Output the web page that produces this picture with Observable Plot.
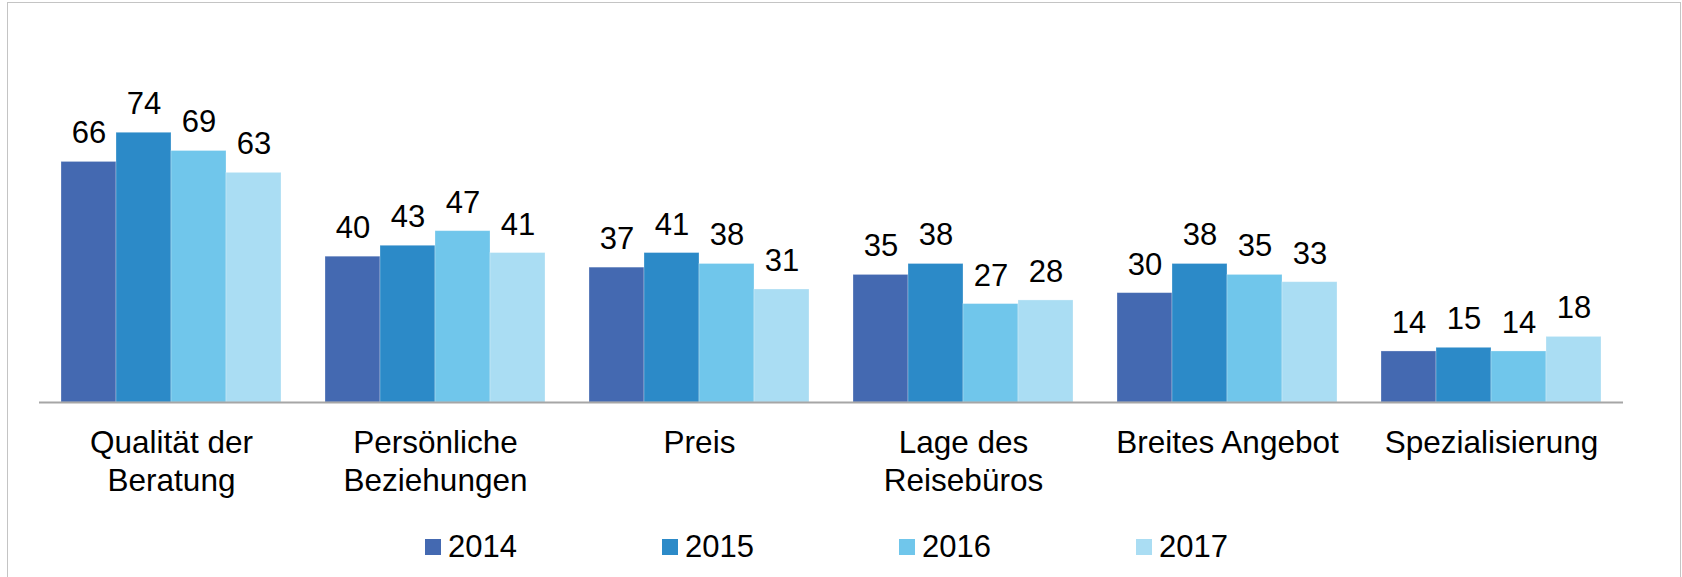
<!DOCTYPE html>
<html>
<head>
<meta charset="utf-8">
<script src="https://cdn.jsdelivr.net/npm/d3@7"></script>
<script src="https://cdn.jsdelivr.net/npm/@observablehq/plot@0.6"></script>
<style>
  html, body { margin: 0; padding: 0; background: #fff; }
  body { width: 1682px; height: 577px; position: relative; overflow: hidden; font-family: "Liberation Sans", Arial, sans-serif; }
  #chart { position: absolute; left: 0; top: 0; }
  #legend { position: absolute; left: 425px; top: 527px; display: flex; height: 40px; align-items: center; }
  .item { width: 237px; display: flex; align-items: center; font-size: 31px; color: #000; }
  .sw { width: 16px; height: 16px; margin-right: 7px; }
  #frame { position: absolute; left: 7px; top: 2px; width: 1674px; height: 640px; border: 1.5px solid #c4c4c4; box-sizing: border-box; pointer-events: none; }
</style>
</head>
<body>
<div id="chart"></div>
<div id="legend"></div>
<div id="frame"></div>
<script>
const categories = ["Qualität der Beratung", "Persönliche Beziehungen", "Preis", "Lage des Reisebüros", "Breites Angebot", "Spezialisierung"];
const tickLabels = ["Qualität der\nBeratung", "Persönliche\nBeziehungen", "Preis", "Lage des\nReisebüros", "Breites Angebot", "Spezialisierung"];
const years = ["2014", "2015", "2016", "2017"];
const v2014 = [66, 40, 37, 35, 30, 14];
const v2015 = [74, 43, 41, 38, 38, 15];
const v2016 = [69, 47, 38, 27, 35, 14];
const v2017 = [63, 41, 31, 28, 33, 18];
const colors = ["#4469B1", "#2C8AC8", "#70C6EB", "#AADDF3"];

const series = [v2014, v2015, v2016, v2017];
const data = categories.flatMap((c, i) => years.map((y, j) => ({category: c, year: y, value: series[j][i]})));
const labelMap = new Map(categories.map((c, i) => [c, tickLabels[i]]));

const chart = Plot.plot({
  width: 1682,
  height: 510,
  marginLeft: 37,
  marginRight: 57,
  marginTop: 37.5,
  marginBottom: 108,
  style: {fontFamily: "'Liberation Sans', Arial, sans-serif", fontSize: "31px", color: "#000", background: "transparent"},
  fx: {domain: categories, padding: 0, label: null},
  x: {domain: years, paddingInner: 0, paddingOuter: 0.375, axis: null},
  y: {domain: [0, 100], axis: null},
  color: {domain: years, range: colors},
  marks: [
    Plot.barY(data, {fx: "category", x: "year", y: "value", fill: "year", stroke: "#ffffff", strokeOpacity: 0.35, strokeWidth: 0.8}),
    Plot.text(data, {fx: "category", x: "year", y: "value", text: d => String(d.value), lineAnchor: "bottom", dy: -18.5, fontSize: 31, fill: "#000"}),
    Plot.ruleY([0], {stroke: "#a6a6a6", strokeWidth: 2}),
    Plot.axisFx({anchor: "bottom", tickSize: 0, tickPadding: 24, fontSize: 31.5, lineHeight: 1.19, tickFormat: c => labelMap.get(c), label: null, fill: "#000"})
  ]
});
document.getElementById("chart").appendChild(chart);

const legend = document.getElementById("legend");
years.forEach((y, i) => {
  const item = document.createElement("div");
  item.className = "item";
  const sw = document.createElement("span");
  sw.className = "sw";
  sw.style.background = colors[i];
  const t = document.createElement("span");
  t.textContent = y;
  item.appendChild(sw);
  item.appendChild(t);
  legend.appendChild(item);
});
</script>
</body>
</html>
